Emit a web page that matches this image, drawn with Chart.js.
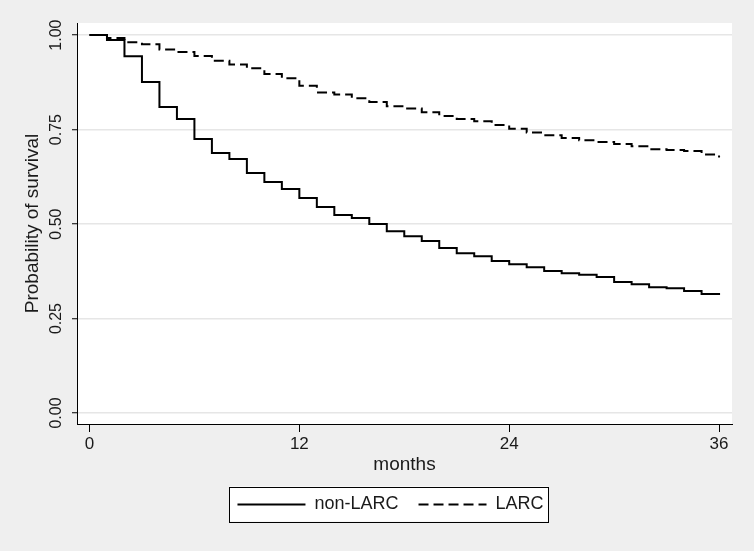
<!DOCTYPE html>
<html><head><meta charset="utf-8">
<script src="https://cdn.jsdelivr.net/npm/chart.js@4.4.1/dist/chart.umd.min.js"></script>
<style>html,body{margin:0;padding:0;background:#efefef;}canvas{display:block;}</style>
</head><body>
<canvas id="c" width="754" height="551"></canvas>
<script>
const months = [0,1,2,3,4,5,6,7,8,9,10,11,12,13,14,15,16,17,18,19,20,21,22,23,24,25,26,27,28,29,30,31,32,33,34,35,36];
const nonLARC = [1.000,0.987,0.944,0.876,0.810,0.778,0.725,0.688,0.672,0.635,0.611,0.593,0.569,0.545,0.524,0.516,0.500,0.481,0.468,0.455,0.437,0.423,0.415,0.402,0.394,0.386,0.376,0.370,0.366,0.360,0.347,0.341,0.333,0.330,0.323,0.315,0.312];
const LARC = [1.000,0.992,0.981,0.976,0.962,0.955,0.945,0.932,0.922,0.912,0.897,0.886,0.866,0.848,0.843,0.833,0.823,0.812,0.806,0.796,0.786,0.778,0.772,0.762,0.752,0.742,0.735,0.728,0.722,0.717,0.712,0.706,0.698,0.696,0.693,0.684,0.676];
const seriesNames = ['non-LARC', 'LARC'];
const xTicks = [0, 12, 24, 36];
const yTicks = [0, 0.25, 0.5, 0.75, 1];
const xTitle = 'months';
const yTitle = 'Probability of survival';

const SANS = '"Liberation Sans", Arial, sans-serif';
const LEGEND_SHIFT = -14;

const bgPlugin = {
  id: 'bg',
  afterUpdate(chart) {
    const lg = chart.legend;
    if (lg && lg.legendHitBoxes) {
      lg.left += LEGEND_SHIFT;
      lg.right += LEGEND_SHIFT;
      lg.legendHitBoxes.forEach(h => { h.left += LEGEND_SHIFT; });
    }
  },
  beforeDraw(chart) {
    const {ctx, chartArea: a} = chart;
    ctx.save();
    ctx.fillStyle = '#efefef';
    ctx.fillRect(0, 0, chart.width, chart.height);
    ctx.fillStyle = '#ffffff';
    ctx.fillRect(a.left, a.top, a.right - a.left, a.bottom - a.top);
    const hb = chart.legend && chart.legend.legendHitBoxes;
    if (hb && hb.length) {
      const first = hb[0], last = hb[hb.length - 1];
      const cy = first.top + first.height / 2;
      const l = first.left - 8, r = last.left + last.width + 5;
      ctx.fillStyle = '#ffffff';
      ctx.fillRect(l, cy - 18, r - l, 35);
      ctx.strokeStyle = '#000';
      ctx.lineWidth = 1;
      ctx.strokeRect(Math.round(l) + 0.5, Math.round(cy - 18) + 0.5, Math.round(r - l), 35);
    }
    ctx.restore();
  }
};

const toPts = arr => months.map((m, i) => ({x: m, y: arr[i]}));

new Chart(document.getElementById('c'), {
  type: 'line',
  data: {
    datasets: [
      {label: seriesNames[0], data: toPts(nonLARC), borderColor: '#000', backgroundColor: '#000', borderWidth: 2, stepped: 'before', pointRadius: 0, fill: false},
      {label: seriesNames[1], data: toPts(LARC), borderColor: '#000', backgroundColor: '#000', borderWidth: 2, borderDash: [10, 5], stepped: 'before', pointRadius: 0, fill: false}
    ]
  },
  options: {
    responsive: false,
    devicePixelRatio: 1,
    animation: false,
    layout: {padding: {top: 23, right: 22, bottom: 27.5, left: 0}},
    plugins: {
      tooltip: {enabled: false},
      legend: {
        position: 'bottom',
        fullSize: false,
        labels: {
          usePointStyle: true,
          pointStyle: 'line',
          pointStyleWidth: 68,
          padding: 20,
          color: '#1a1a1a',
          font: {family: SANS, size: 18},
          generateLabels: chart => {
            const items = Chart.defaults.plugins.legend.labels.generateLabels(chart);
            items.forEach(it => {
              const ds = chart.data.datasets[it.datasetIndex];
              it.lineDash = ds.borderDash || [];
              it.lineWidth = ds.borderWidth;
              it.strokeStyle = ds.borderColor;
              it.fillStyle = ds.borderColor;
            });
            return items;
          }
        }
      }
    },
    scales: {
      x: {
        type: 'linear',
        min: -0.714,
        max: 36.74,
        afterBuildTicks: s => { s.ticks = xTicks.map(v => ({value: v})); },
        afterFit: s => { s.height = 51.5; },
        grid: {drawOnChartArea: false, drawTicks: true, tickLength: 8, tickColor: '#000', tickWidth: 1},
        border: {display: true, color: '#000', width: 1},
        ticks: {color: '#1a1a1a', padding: 2, maxRotation: 0, font: {family: SANS, size: 17}, callback: v => String(v)},
        title: {display: true, text: xTitle, color: '#1a1a1a', font: {family: SANS, size: 19}, padding: {top: 0, bottom: -1}}
      },
      y: {
        min: -0.029,
        max: 1.032,
        afterBuildTicks: s => { s.ticks = yTicks.map(v => ({value: v})); },
        afterFit: s => { s.width = 77; },
        grid: {drawOnChartArea: true, color: '#e6e6e6', lineWidth: 1.5, drawTicks: true, tickLength: 5, tickColor: '#000', tickWidth: 1},
        border: {display: true, color: '#000', width: 1},
        ticks: {color: '#1a1a1a', padding: 0, minRotation: 90, maxRotation: 90, crossAlign: 'center', font: {family: SANS, size: 16}, callback: v => Number(v).toFixed(2)},
        title: {display: true, text: yTitle, color: '#1a1a1a', font: {family: SANS, size: 19}, padding: {top: 21, bottom: 0}}
      }
    }
  },
  plugins: [bgPlugin]
});
</script>
</body></html>
